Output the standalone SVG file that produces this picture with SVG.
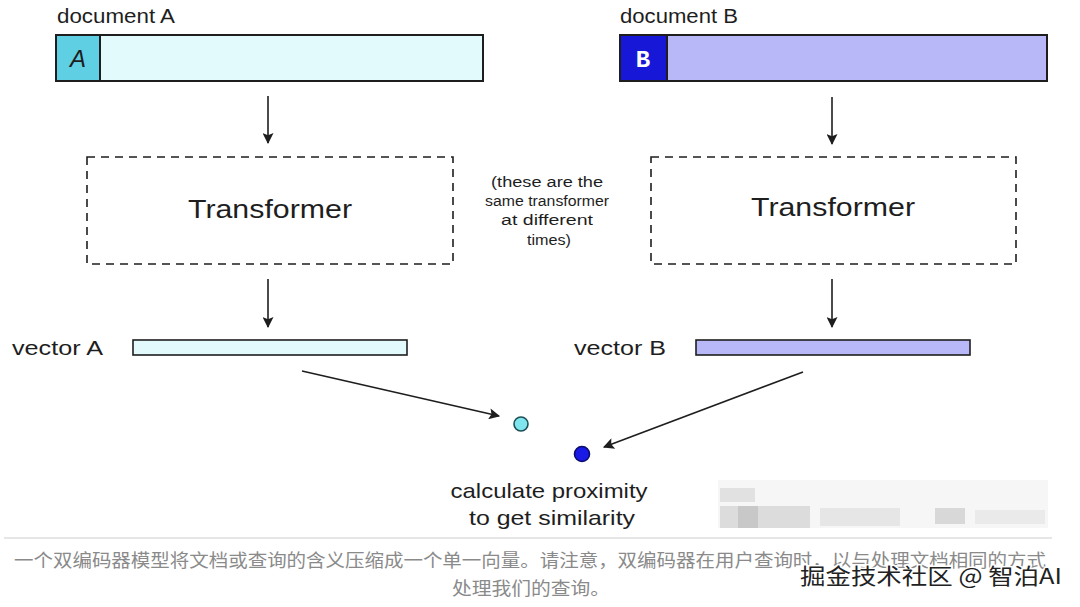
<svg xmlns="http://www.w3.org/2000/svg" width="1080" height="607" viewBox="0 0 1080 607">
<defs>
<marker id="ah" viewBox="0 0 10 10" refX="9" refY="5" markerWidth="12" markerHeight="11" markerUnits="userSpaceOnUse" orient="auto">
<path d="M0,0 L10,5 L0,10 L2,5 Z" fill="#1e1e1e"/>
</marker>
<style>
.hand{font-family:"Liberation Sans","DejaVu Sans",sans-serif;fill:#1e1e1e}
.box{stroke:#1e1e1e;stroke-width:2}
.dash{fill:none;stroke:#1e1e1e;stroke-width:1.6;stroke-dasharray:8 6}
.conn{stroke:#1e1e1e;stroke-width:1.6;fill:none;marker-end:url(#ah)}
.cap{font-family:"Noto Sans CJK SC","Noto Sans",sans-serif;fill:#8a8a8a;font-size:18px}
.blur{fill:#d4d4d4}
</style>
</defs>
<rect width="1080" height="607" fill="#ffffff"/>

<g id="docA">
<text class="hand" x="57" y="23" font-size="20" textLength="118" lengthAdjust="spacingAndGlyphs">document A</text>
<rect class="box" x="56" y="35" width="427" height="46" fill="#e3fafc"/>
<rect class="box" x="56" y="35" width="44" height="46" fill="#5fcfe4"/>
<text class="hand" x="78" y="67" font-size="24" font-style="italic" text-anchor="middle">A</text>
</g>

<g id="docB">
<text class="hand" x="620" y="23" font-size="20" textLength="118" lengthAdjust="spacingAndGlyphs">document B</text>
<rect class="box" x="620" y="35" width="427" height="46" fill="#b8b8f8"/>
<rect class="box" x="620" y="35" width="47" height="46" fill="#1717d8"/>
<text x="643" y="67" font-size="24" font-family="Liberation Mono, monospace" font-weight="bold" fill="#ffffff" text-anchor="middle">B</text>
</g>

<g id="transformerA">
<rect class="dash" x="87" y="157" width="366" height="107"/>
<text class="hand" x="270" y="218" font-size="26" text-anchor="middle" textLength="164" lengthAdjust="spacingAndGlyphs">Transformer</text>
</g>

<g id="transformerB">
<rect class="dash" x="651" y="157" width="365" height="107"/>
<text class="hand" x="833" y="216" font-size="26" text-anchor="middle" textLength="164" lengthAdjust="spacingAndGlyphs">Transformer</text>
</g>

<g id="note">
<text class="hand" font-size="14" text-anchor="middle">
<tspan x="549" y="187" textLength="112" lengthAdjust="spacingAndGlyphs">(these are the</tspan>
<tspan x="549" y="206" textLength="124" lengthAdjust="spacingAndGlyphs">same transformer</tspan>
<tspan x="549" y="225" textLength="92" lengthAdjust="spacingAndGlyphs">at different</tspan>
<tspan x="549" y="245" textLength="44" lengthAdjust="spacingAndGlyphs">times)</tspan>
</text>
</g>

<g id="vectorA">
<text class="hand" x="12" y="355" font-size="20" textLength="91" lengthAdjust="spacingAndGlyphs">vector A</text>
<rect x="133" y="340" width="274" height="15" fill="#e3fafc" stroke="#1e1e1e" stroke-width="1.6"/>
</g>

<g id="vectorB">
<text class="hand" x="574" y="355" font-size="20" textLength="92" lengthAdjust="spacingAndGlyphs">vector B</text>
<rect x="696" y="340" width="274" height="15" fill="#b8b8f8" stroke="#1e1e1e" stroke-width="1.6"/>
</g>

<g id="pointA">
<circle cx="521" cy="424" r="7" fill="#7fe6ee" stroke="#1e4f55" stroke-width="1.6"/>
</g>
<g id="pointB">
<circle cx="582" cy="454" r="7.5" fill="#1a1ae6" stroke="#0c0c6e" stroke-width="1.6"/>
</g>

<g id="result">
<text class="hand" font-size="21" text-anchor="middle">
<tspan x="552" y="498" textLength="197" lengthAdjust="spacingAndGlyphs">calculate proximity</tspan>
<tspan x="552" y="525" textLength="166" lengthAdjust="spacingAndGlyphs">to get similarity</tspan>
</text>
</g>

<g id="connectors">
<line class="conn" x1="268" y1="96" x2="268" y2="143"/>
<line class="conn" x1="832" y1="97" x2="832" y2="144"/>
<line class="conn" x1="268" y1="279" x2="268" y2="327"/>
<line class="conn" x1="832" y1="279" x2="832" y2="327"/>
<line class="conn" x1="302" y1="371" x2="499" y2="416"/>
<line class="conn" x1="803" y1="372" x2="604" y2="447"/>
</g>

<g id="blurred">
<rect x="718" y="480" width="330" height="48" fill="#f6f6f6"/>
<rect class="blur" x="720" y="488" width="35" height="14" opacity="0.6"/>
<rect x="720" y="506" width="90" height="22" fill="#dcdcdc"/>
<rect x="738" y="506" width="20" height="22" fill="#c8c8c8"/>
<rect x="820" y="508" width="80" height="18" fill="#e6e6e6"/>
<rect x="935" y="508" width="30" height="16" fill="#d8d8d8"/>
<rect x="975" y="510" width="70" height="14" fill="#eaeaea"/>
</g>

<g id="caption">
<line x1="4" y1="538" x2="1052" y2="538" stroke="#e6e6e6" stroke-width="2"/>
<text class="cap" x="14" y="567" textLength="1032" lengthAdjust="spacingAndGlyphs">一个双编码器模型将文档或查询的含义压缩成一个单一向量。请注意，双编码器在用户查询时，以与处理文档相同的方式</text>
<text class="cap" x="452" y="595" textLength="158" lengthAdjust="spacingAndGlyphs">处理我们的查询。</text>
<text x="800" y="584" font-family="Noto Sans CJK SC, sans-serif" font-size="22" fill="#222222" stroke="#ffffff" stroke-width="3" paint-order="stroke" textLength="262" lengthAdjust="spacingAndGlyphs">掘金技术社区 @ 智泊AI</text>
</g>
</svg>
